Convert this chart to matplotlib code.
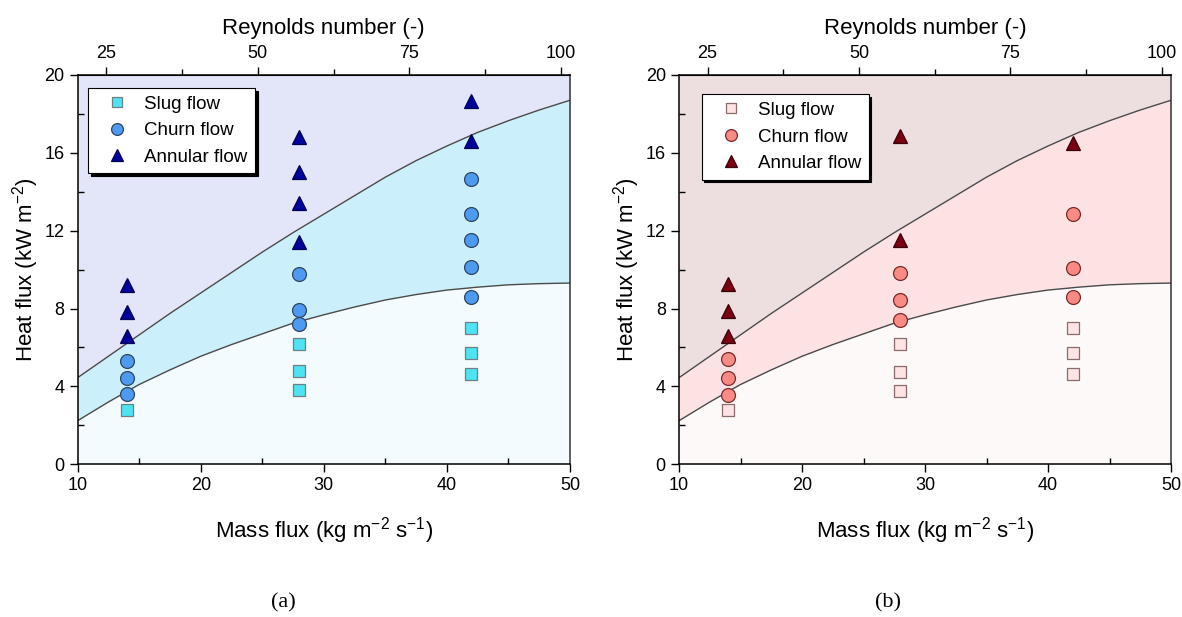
import matplotlib.pyplot as plt
from matplotlib.ticker import MultipleLocator, FixedLocator

plt.rcParams["font.family"] = ["Liberation Sans", "DejaVu Sans"]
plt.rcParams["mathtext.fontset"] = "custom"
plt.rcParams["mathtext.rm"] = "Liberation Sans"
plt.rcParams["mathtext.it"] = "Liberation Sans"
plt.rcParams["mathtext.default"] = "regular"

# flow regime boundaries (mass flux vs heat flux)
boundary_g = [10, 12.5, 15, 17.5, 20, 22.5, 25, 27.5, 30, 32.5, 35, 37.5, 40, 42.5, 45, 47.5, 50]
churn_annular = [4.45, 5.55, 6.65, 7.75, 8.8, 9.85, 10.9, 11.9, 12.85, 13.8, 14.75, 15.6,
                 16.35, 17.05, 17.65, 18.2, 18.7]
slug_churn = [2.24, 3.2, 4.1, 4.85, 5.55, 6.15, 6.7, 7.25, 7.68, 8.08, 8.44, 8.72,
              8.95, 9.1, 9.22, 9.28, 9.31]

# Reynolds number per unit mass flux, and the top-axis ticks
RE_PER_G = 2.03
re_ticks = [25, 50, 75, 100]
re_minor = [37.5, 62.5, 87.5]

# (a) observations
a_slug_g = [14, 28, 28, 28, 42, 42, 42]
a_slug_q = [2.79, 6.18, 4.79, 3.80, 7.00, 5.72, 4.64]
a_churn_g = [14, 14, 14, 28, 28, 28, 42, 42, 42, 42, 42]
a_churn_q = [5.33, 4.42, 3.60, 9.79, 7.95, 7.23, 14.66, 12.84, 11.51, 10.14, 8.60]
a_annular_g = [14, 14, 14, 28, 28, 28, 28, 42, 42]
a_annular_q = [9.21, 7.84, 6.61, 16.8, 15.0, 13.4, 11.42, 18.68, 16.61]

# (b) observations
b_slug_g = [14, 28, 28, 28, 42, 42, 42]
b_slug_q = [2.79, 6.18, 4.74, 3.77, 7.00, 5.72, 4.66]
b_churn_g = [14, 14, 14, 28, 28, 28, 42, 42, 42]
b_churn_q = [5.41, 4.45, 3.58, 9.85, 8.46, 7.40, 12.88, 10.09, 8.60]
b_annular_g = [14, 14, 14, 28, 28, 42]
b_annular_q = [9.25, 7.88, 6.61, 16.87, 11.52, 16.52]

panels = [
    dict(rect=[0.0657, 0.2475, 0.4165, 0.631], caption="(a)", cap_x=0.240,
         fills=["#e3e6f8", "#ccf0fb", "#f3fbfe"],
         slug=(a_slug_g, a_slug_q, "#4ee3f2", "#6f7f86"),
         churn=(a_churn_g, a_churn_q, "#4d9af0", "#2f4660"),
         annular=(a_annular_g, a_annular_q, "#00009c", "#000050"),
         leg_anchor=(0.0215, 0.966)),
    dict(rect=[0.5745, 0.2475, 0.4162, 0.631], caption="(b)", cap_x=0.751,
         fills=["#eddfe0", "#fde2e4", "#fdf9f9"],
         slug=(b_slug_g, b_slug_q, "#fde3e3", "#8a6a6a"),
         churn=(b_churn_g, b_churn_q, "#f98b84", "#7a2a2a"),
         annular=(b_annular_g, b_annular_q, "#7b0012", "#3a0008"),
         leg_anchor=(0.046, 0.950)),
]

fig = plt.figure(figsize=(11.82, 6.17), dpi=100)

for p in panels:
    ax = fig.add_axes(p["rect"])
    ax.set_xlim(10, 50)
    ax.set_ylim(0, 20)

    top_c, mid_c, low_c = p["fills"]
    ax.fill_between(boundary_g, churn_annular, 20, color=top_c, lw=0, zorder=0)
    ax.fill_between(boundary_g, slug_churn, churn_annular, color=mid_c, lw=0, zorder=0)
    ax.fill_between(boundary_g, 0, slug_churn, color=low_c, lw=0, zorder=0)
    ax.plot(boundary_g, churn_annular, color="#4a4a4a", lw=1.0, zorder=1)
    ax.plot(boundary_g, slug_churn, color="#4a4a4a", lw=1.0, zorder=1)

    g, q, fc, ec = p["slug"]
    ax.plot(g, q, ls="none", marker="s", ms=8, mfc=fc, mec=ec, mew=0.9,
            label="Slug flow", zorder=3)
    g, q, fc, ec = p["churn"]
    ax.plot(g, q, ls="none", marker="o", ms=10, mfc=fc, mec=ec, mew=0.9,
            label="Churn flow", zorder=3)
    g, q, fc, ec = p["annular"]
    ax.plot(g, q, ls="none", marker="^", ms=10.5, mfc=fc, mec=ec, mew=0.9,
            label="Annular flow", zorder=3)

    ax.xaxis.set_major_locator(MultipleLocator(10))
    ax.xaxis.set_minor_locator(MultipleLocator(5))
    ax.yaxis.set_major_locator(MultipleLocator(4))
    ax.yaxis.set_minor_locator(MultipleLocator(2))
    ax.tick_params(which="major", direction="out", length=6, width=1,
                   labelsize=13, top=False, right=False)
    ax.tick_params(which="minor", direction="in", length=4, width=1,
                   top=False, right=False)
    for s in ax.spines.values():
        s.set_linewidth(1.1)
    ax.spines["right"].set_color("#333333")

    ax.set_xlabel("Mass flux (kg m$^{-2}$ s$^{-1}$)", fontsize=16)
    ax.xaxis.set_label_coords(0.5, -0.13)
    ax.set_ylabel("Heat flux (kW m$^{-2}$)", fontsize=16)
    ax.yaxis.set_label_coords(-0.075, 0.5)

    top = ax.secondary_xaxis("top", functions=(lambda x: x * RE_PER_G,
                                                lambda r: r / RE_PER_G))
    top.xaxis.set_major_locator(FixedLocator(re_ticks))
    top.xaxis.set_minor_locator(FixedLocator(re_minor))
    top.tick_params(which="major", direction="out", length=6, width=1, labelsize=13)
    top.tick_params(which="minor", direction="out", length=4, width=1)
    top.set_xlabel("Reynolds number (-)", fontsize=16)
    top.xaxis.set_label_coords(0.5, 1.105, transform=ax.transAxes)

    leg = ax.legend(loc="upper left", bbox_to_anchor=p["leg_anchor"], fontsize=13.5,
                    fancybox=False, edgecolor="black", framealpha=1,
                    shadow={"color": "black", "alpha": 1}, borderaxespad=0,
                    handletextpad=0.3, labelspacing=0.5, borderpad=0.4,
                    handlelength=2.3, markerscale=0.85)
    leg.get_frame().set_linewidth(0.8)

    fig.text(p["cap_x"], 0.0227, p["caption"], fontsize=16,
             family=["Liberation Serif", "DejaVu Serif"], ha="center", va="center")

fig.savefig("out.png", dpi=100)
